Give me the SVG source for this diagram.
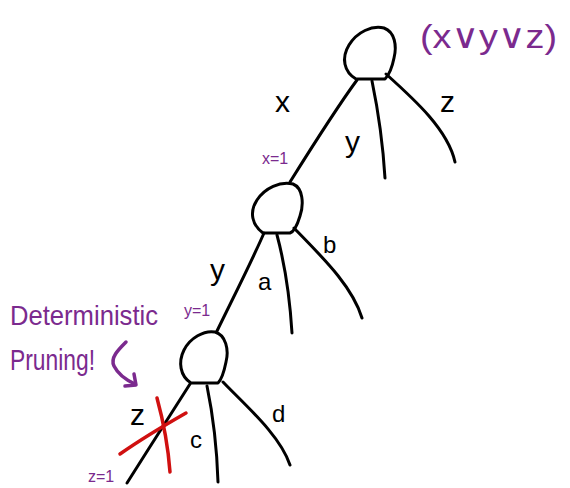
<svg xmlns="http://www.w3.org/2000/svg" width="570" height="488" viewBox="0 0 570 488">
<style>
.ink{fill:none;stroke:#000;stroke-width:3;stroke-linecap:round;stroke-linejoin:round}
.red{fill:none;stroke:#d01010;stroke-width:3.5;stroke-linecap:round}
.pur{fill:none;stroke:#7b2a8e;stroke-width:3.5;stroke-linecap:round;stroke-linejoin:round}
.lbl{font-family:"Liberation Sans","DejaVu Sans",sans-serif;fill:#000}
.pl{font-family:"Liberation Sans","DejaVu Sans",sans-serif;fill:#7b2a8e}
</style>
<rect width="570" height="488" fill="#fff"/>
<g id="connectors">
<path class="ink" d="M357,80 C335,110 310,150 290,182"/>
<path class="ink" d="M372,81 C378,110 383,145 385,178"/>
<path class="ink" d="M386,74 C415,100 448,130 455,162"/>
<path class="ink" d="M264,233 C250,265 232,300 217,331"/>
<path class="ink" d="M277,235 C285,265 290,300 292,333"/>
<path class="ink" d="M294,228 C320,255 352,285 362,318"/>
<path class="ink" d="M190,384 C170,415 148,450 127,483"/>
<path class="ink" d="M207,386 C214,420 217,450 218,482"/>
<path class="ink" d="M223,382 C245,405 280,435 290,465"/>
</g>
<g id="node-root">
<path class="ink" d="M356,79 C344,72 341,58 349,45 C357,32 372,25 384,28 C395,32 397,46 394,58 C392,68 388,76 385,79 Z"/>
</g>
<g id="node-2">
<path class="ink" d="M263,233 C252,225 249,212 257,200 C265,188 280,181 293,184 C303,188 304,204 300,216 C297,226 293,232 290,233 Z"/>
</g>
<g id="node-3">
<path class="ink" d="M191,383 C180,376 178,362 184,350 C190,338 204,330 215,332 C226,335 229,350 226,362 C224,372 221,380 218,383 Z"/>
</g>
<g id="labels">
<text class="lbl" x="275" y="112" font-size="30">x</text>
<text class="lbl" x="345" y="152" font-size="30">y</text>
<text class="lbl" x="440" y="112" font-size="30">z</text>
<text class="lbl" x="210" y="280" font-size="30">y</text>
<text class="lbl" x="258" y="290" font-size="24">a</text>
<text class="lbl" x="323" y="253" font-size="24">b</text>
<text class="lbl" x="130" y="425" font-size="30">z</text>
<text class="lbl" x="190" y="448" font-size="24">c</text>
<text class="lbl" x="272" y="422" font-size="24">d</text>
</g>
<g id="annotations">
<text class="pl" x="420" y="48" font-size="34" textLength="137" lengthAdjust="spacingAndGlyphs">(x∨y∨z)</text>
<text class="pl" x="262" y="164" font-size="16">x=1</text>
<text class="pl" x="184" y="316" font-size="16">y=1</text>
<text class="pl" x="88" y="482" font-size="16">z=1</text>
<text class="pl" x="10" y="325" font-size="28" textLength="148" lengthAdjust="spacingAndGlyphs">Deterministic</text>
<text class="pl" x="10" y="370" font-size="30" textLength="85" lengthAdjust="spacingAndGlyphs">Pruning!</text>
<path class="pur" d="M126,342 C118,350 110,358 114,366 C118,374 126,380 135,384"/>
<path class="pur" d="M125,386 L136,385 L134,374"/>
<path class="red" d="M120,454 C140,440 165,425 186,413"/>
<path class="red" d="M157,398 C163,420 168,445 170,472"/>
</g>
</svg>
